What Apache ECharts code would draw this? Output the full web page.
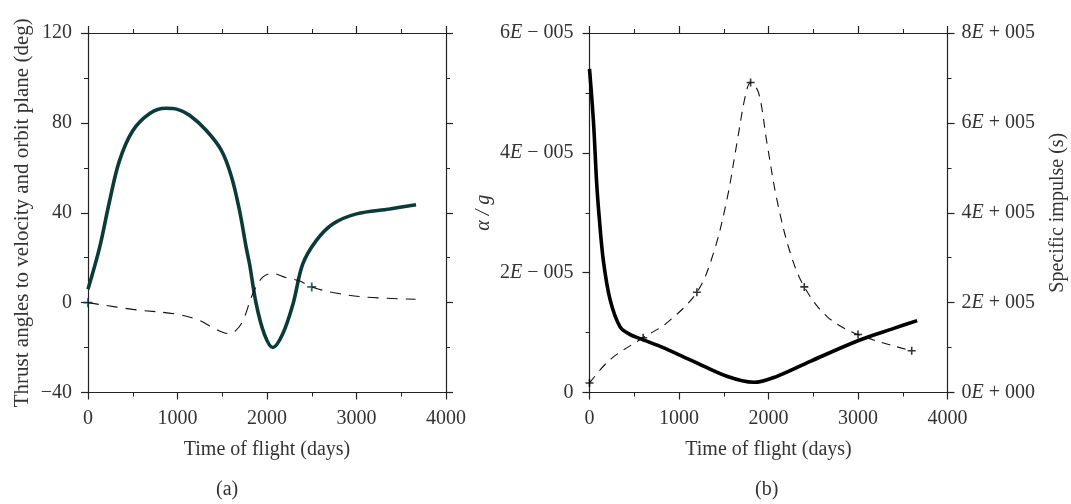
<!DOCTYPE html>
<html>
<head>
<meta charset="utf-8">
<script src="https://cdn.jsdelivr.net/npm/echarts@6/dist/echarts.min.js"></script>
<style>
  html, body { margin: 0; padding: 0; background: #fff; }
  #main { width: 1071px; height: 504px; }
</style>
</head>
<body>
<div id="main"></div>
<script>
// ---- data (a): thrust angles ----
const timeTicks = ['0', '1000', '2000', '3000', '4000'];
const angleTicks = ['\u221240', '0', '40', '80', '120'];

const velDays = [0, 130, 240, 350, 500, 690, 870, 1000, 1135, 1320, 1490, 1600, 1693, 1770, 1805, 1880, 1970, 2065, 2175, 2290, 2400, 2550, 2735, 3000, 3370, 3665];
const velAngle = [6, 24.6, 45, 63, 76.5, 84.2, 86.5, 86, 83.4, 76.7, 67.8, 56.5, 41, 24, 17.2, -0.7, -14, -20, -14, -0.7, 17.2, 27.6, 35, 39.5, 41.7, 43.6];

const planeDays = [0, 500, 1000, 1250, 1430, 1580, 1650, 1730, 1840, 1950, 2065, 2210, 2360, 2500, 2735, 3100, 3660];
const planeAngle = [0, -3, -5.2, -8, -11.9, -13.8, -12.5, -8.2, 3.8, 11.2, 13, 11.2, 9.7, 7, 4.5, 2.5, 1.5];

const planeMarkDays = [0, 2500];
const planeMarkAngle = [0, 7];

// ---- data (b): acceleration and specific impulse ----
const accelTicks = ['0', '2E \u2212 005', '4E \u2212 005', '6E \u2212 005'];
const ispTicks = ['0E + 000', '2E + 005', '4E + 005', '6E + 005', '8E + 005'];

const accelDays = [0, 45, 80, 110, 155, 230, 340, 450, 565, 790, 1162, 1535, 1833, 2094, 2467, 3027, 3400, 3661];
const accel = [5.4e-5, 4.5e-5, 3.5e-5, 2.9e-5, 2.2e-5, 1.55e-5, 1.1e-5, 0.97e-5, 0.9e-5, 0.77e-5, 0.52e-5, 0.27e-5, 0.17e-5, 0.27e-5, 0.52e-5, 0.88e-5, 1.07e-5, 1.2e-5];

const ispDays = [0, 229, 600, 864, 1200, 1385, 1535, 1647, 1740, 1800, 1889, 1983, 2094, 2244, 2400, 2654, 3000, 3600];
const isp = [2.1e4, 7.3e4, 1.22e5, 1.55e5, 2.23e5, 3.1e5, 4.29e5, 5.55e5, 6.59e5, 6.9e5, 6.67e5, 5.55e5, 4.29e5, 3.1e5, 2.35e5, 1.69e5, 1.29e5, 0.93e5];

const ispMarkDays = [0, 600, 1200, 1800, 2400, 3000, 3600];
const ispMark = [2.1e4, 1.22e5, 2.23e5, 6.9e5, 2.35e5, 1.29e5, 0.93e5];

const zip = (xs, ys) => xs.map((x, i) => [x, ys[i]]);

const FONT = 'Liberation Serif';
const FS = 20;
const TXT = '#333';
const AX = '#222';
const PLUS = 'path://M4,0H6V4H10V6H6V10H4V6H0V4H4Z';

const eRich = {
    e: { fontFamily: FONT, fontSize: FS, fontStyle: 'italic', color: TXT }
};
const eLabel = (arr) => (v, i) => arr[i].replace('E', '{e|E}');

function baseAxis(extra) {
    return Object.assign({
        type: 'value',
        axisLine: { show: true, onZero: false, lineStyle: { color: AX, width: 1.2 } },
        axisTick: { show: true, inside: false, length: 7, lineStyle: { color: AX, width: 1.2 } },
        minorTick: { show: true, splitNumber: 2, length: 4, lineStyle: { color: AX, width: 1 } },
        splitLine: { show: false },
        axisLabel: { show: false },
        nameTextStyle: { fontFamily: FONT, fontSize: FS, color: TXT },
    }, extra);
}
const tickLabel = (fmt, margin) => ({
    show: true, margin: margin, fontFamily: FONT, fontSize: FS, color: TXT,
    formatter: fmt, rich: eRich, showMinLabel: true, showMaxLabel: true
});

const option = {
    animation: false,
    backgroundColor: '#fff',
    grid: [
        { left: 88, top: 33, width: 358, height: 359.5 },
        { left: 589.5, top: 33, width: 358, height: 359.5 }
    ],
    xAxis: [
        baseAxis({ gridIndex: 0, position: 'bottom', min: 0, max: 4000, interval: 1000,
            axisLabel: tickLabel((v, i) => timeTicks[i], 16),
            name: 'Time of flight (days)', nameLocation: 'middle', nameGap: 47 }),
        baseAxis({ gridIndex: 0, position: 'top', min: 0, max: 4000, interval: 1000 }),
        baseAxis({ gridIndex: 1, position: 'bottom', min: 0, max: 4000, interval: 1000,
            axisLabel: tickLabel((v, i) => timeTicks[i], 16),
            name: 'Time of flight (days)', nameLocation: 'middle', nameGap: 47 }),
        baseAxis({ gridIndex: 1, position: 'top', min: 0, max: 4000, interval: 1000 })
    ],
    yAxis: [
        baseAxis({ gridIndex: 0, position: 'left', min: -40, max: 120, interval: 40,
            axisLabel: tickLabel((v, i) => angleTicks[i], 16),
            name: 'Thrust angles to velocity and orbit plane (deg)', nameLocation: 'middle',
            nameRotate: 90, nameGap: 55,
            nameTextStyle: { fontFamily: FONT, fontSize: 21, color: TXT } }),
        baseAxis({ gridIndex: 0, position: 'right', min: -40, max: 120, interval: 40 }),
        baseAxis({ gridIndex: 1, position: 'left', min: 0, max: 6e-5, interval: 2e-5,
            axisLabel: tickLabel(eLabel(accelTicks), 16),
            name: '\u03b1 / g', nameLocation: 'middle', nameRotate: 90, nameGap: 96,
            nameTextStyle: { fontFamily: FONT, fontSize: FS, color: TXT, fontStyle: 'italic' } }),
        baseAxis({ gridIndex: 1, position: 'right', min: 0, max: 8e5, interval: 2e5,
            axisLabel: tickLabel(eLabel(ispTicks), 14),
            name: 'Specific impulse (s)', nameLocation: 'middle', nameRotate: 90, nameGap: 100 })
    ],
    graphic: [
        { type: 'text', left: 216, top: 480, style: { text: '(a)', fontFamily: FONT, fontSize: FS, fill: TXT } },
        { type: 'text', left: 755, top: 480, style: { text: '(b)', fontFamily: FONT, fontSize: FS, fill: TXT } }
    ],
    series: [
        {
            type: 'line', xAxisIndex: 0, yAxisIndex: 0, smooth: 0.35, symbol: 'none',
            lineStyle: { color: '#0a3b39', width: 3.6 },
            data: zip(velDays, velAngle)
        },
        {
            type: 'line', xAxisIndex: 0, yAxisIndex: 0, smooth: 0.35, symbol: 'none',
            lineStyle: { color: '#111', width: 1.1, type: [11, 8] },
            data: zip(planeDays, planeAngle)
        },
        {
            type: 'scatter', xAxisIndex: 0, yAxisIndex: 0, symbol: PLUS, symbolSize: 9,
            itemStyle: { color: '#0a3b39' },
            data: zip(planeMarkDays, planeMarkAngle)
        },
        {
            type: 'line', xAxisIndex: 2, yAxisIndex: 2, smooth: 0.35, symbol: 'none',
            lineStyle: { color: '#000', width: 3.6 },
            data: zip(accelDays, accel)
        },
        {
            type: 'line', xAxisIndex: 2, yAxisIndex: 3, smooth: 0.35, symbol: 'none',
            lineStyle: { color: '#111', width: 1.1, type: [9, 7] },
            data: zip(ispDays, isp)
        },
        {
            type: 'scatter', xAxisIndex: 2, yAxisIndex: 3, symbol: PLUS, symbolSize: 8,
            itemStyle: { color: '#000' },
            data: zip(ispMarkDays, ispMark)
        }
    ]
};

const chart = echarts.init(document.getElementById('main'));
chart.setOption(option);
</script>
</body>
</html>
